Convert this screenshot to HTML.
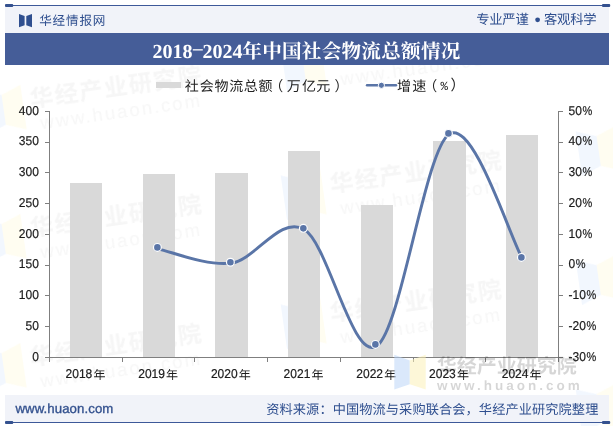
<!DOCTYPE html>
<html lang="zh"><head><meta charset="utf-8"><title>2018-2024年中国社会物流总额情况</title>
<style>
html,body{margin:0;padding:0;background:#fff}
body{width:613px;height:426px;overflow:hidden;font-family:"Liberation Sans",sans-serif}
svg{display:block;font-family:"Liberation Sans","Noto Sans CJK SC",sans-serif;will-change:transform;text-rendering:geometricPrecision}
</style></head><body>
<svg width="613" height="426" viewBox="0 0 613 426">
<defs>
<filter id="wb" x="-5%" y="-20%" width="110%" height="140%"><feGaussianBlur stdDeviation="0.5"/></filter>
</defs>
<g transform="translate(115.5 86.4) rotate(-8.1)" filter="url(#wb)"><text x="-86.45" y="8.93" font-family="'Liberation Sans','Noto Sans CJK SC',sans-serif" font-size="23.5" font-weight="bold" letter-spacing="1.4" fill="#f6f6f6">华经产业研究院</text><text x="2" y="32" text-anchor="middle" font-size="18.5" letter-spacing="2.1" fill="#f7f7f7">www.huaon.com</text><path d="M-134 -15L-114 -7.4V22.4L-134 30Z" fill="#f2f7fe"/><path d="M-94 -15L-114 -7.4V22.4L-94 30Z" fill="#fffdf1"/></g>
<g transform="translate(115.5 215.5) rotate(-8.1)" filter="url(#wb)"><text x="-86.45" y="8.93" font-family="'Liberation Sans','Noto Sans CJK SC',sans-serif" font-size="23.5" font-weight="bold" letter-spacing="1.4" fill="#f6f6f6">华经产业研究院</text><text x="2" y="32" text-anchor="middle" font-size="18.5" letter-spacing="2.1" fill="#f7f7f7">www.huaon.com</text><path d="M-134 -15L-114 -7.4V22.4L-134 30Z" fill="#f2f7fe"/><path d="M-94 -15L-114 -7.4V22.4L-94 30Z" fill="#fffdf1"/></g>
<g transform="translate(115.5 344.6) rotate(-8.1)" filter="url(#wb)"><text x="-86.45" y="8.93" font-family="'Liberation Sans','Noto Sans CJK SC',sans-serif" font-size="23.5" font-weight="bold" letter-spacing="1.4" fill="#f6f6f6">华经产业研究院</text><text x="2" y="32" text-anchor="middle" font-size="18.5" letter-spacing="2.1" fill="#f7f7f7">www.huaon.com</text><path d="M-134 -15L-114 -7.4V22.4L-134 30Z" fill="#f2f7fe"/><path d="M-94 -15L-114 -7.4V22.4L-94 30Z" fill="#fffdf1"/></g>
<g transform="translate(415.5 42.5) rotate(-8.1)" filter="url(#wb)"><text x="-86.45" y="8.93" font-family="'Liberation Sans','Noto Sans CJK SC',sans-serif" font-size="23.5" font-weight="bold" letter-spacing="1.4" fill="#f6f6f6">华经产业研究院</text><text x="2" y="32" text-anchor="middle" font-size="18.5" letter-spacing="2.1" fill="#f7f7f7">www.huaon.com</text><path d="M-134 -15L-114 -7.4V22.4L-134 30Z" fill="#f2f7fe"/><path d="M-94 -15L-114 -7.4V22.4L-94 30Z" fill="#fffdf1"/></g>
<g transform="translate(415.5 171.5) rotate(-8.1)" filter="url(#wb)"><text x="-86.45" y="8.93" font-family="'Liberation Sans','Noto Sans CJK SC',sans-serif" font-size="23.5" font-weight="bold" letter-spacing="1.4" fill="#f6f6f6">华经产业研究院</text><text x="2" y="32" text-anchor="middle" font-size="18.5" letter-spacing="2.1" fill="#f7f7f7">www.huaon.com</text><path d="M-134 -15L-114 -7.4V22.4L-134 30Z" fill="#f2f7fe"/><path d="M-94 -15L-114 -7.4V22.4L-94 30Z" fill="#fffdf1"/></g>
<g transform="translate(415.5 300.5) rotate(-8.1)" filter="url(#wb)"><text x="-86.45" y="8.93" font-family="'Liberation Sans','Noto Sans CJK SC',sans-serif" font-size="23.5" font-weight="bold" letter-spacing="1.4" fill="#f6f6f6">华经产业研究院</text><text x="2" y="32" text-anchor="middle" font-size="18.5" letter-spacing="2.1" fill="#f7f7f7">www.huaon.com</text><path d="M-134 -15L-114 -7.4V22.4L-134 30Z" fill="#f2f7fe"/><path d="M-94 -15L-114 -7.4V22.4L-94 30Z" fill="#fffdf1"/></g>
<g transform="translate(710.5 127.5) rotate(-8.1)" filter="url(#wb)"><text x="-86.45" y="8.93" font-family="'Liberation Sans','Noto Sans CJK SC',sans-serif" font-size="23.5" font-weight="bold" letter-spacing="1.4" fill="#f6f6f6">华经产业研究院</text><text x="2" y="32" text-anchor="middle" font-size="18.5" letter-spacing="2.1" fill="#f7f7f7">www.huaon.com</text><path d="M-134 -15L-114 -7.4V22.4L-134 30Z" fill="#f2f7fe"/><path d="M-94 -15L-114 -7.4V22.4L-94 30Z" fill="#fffdf1"/></g>
<g transform="translate(710.5 256.5) rotate(-8.1)" filter="url(#wb)"><text x="-86.45" y="8.93" font-family="'Liberation Sans','Noto Sans CJK SC',sans-serif" font-size="23.5" font-weight="bold" letter-spacing="1.4" fill="#f6f6f6">华经产业研究院</text><text x="2" y="32" text-anchor="middle" font-size="18.5" letter-spacing="2.1" fill="#f7f7f7">www.huaon.com</text><path d="M-134 -15L-114 -7.4V22.4L-134 30Z" fill="#f2f7fe"/><path d="M-94 -15L-114 -7.4V22.4L-94 30Z" fill="#fffdf1"/></g>
<g transform="translate(710.5 385.5) rotate(-8.1)" filter="url(#wb)"><text x="-86.45" y="8.93" font-family="'Liberation Sans','Noto Sans CJK SC',sans-serif" font-size="23.5" font-weight="bold" letter-spacing="1.4" fill="#f6f6f6">华经产业研究院</text><text x="2" y="32" text-anchor="middle" font-size="18.5" letter-spacing="2.1" fill="#f7f7f7">www.huaon.com</text><path d="M-134 -15L-114 -7.4V22.4L-134 30Z" fill="#f2f7fe"/><path d="M-94 -15L-114 -7.4V22.4L-94 30Z" fill="#fffdf1"/></g>
<rect x="5" y="6" width="604" height="27" fill="#f1f3f9"/>
<rect x="5" y="5" width="605" height="1" fill="#3d5999"/>
<rect x="5" y="4" width="8.2" height="3" rx="1" fill="#34518f"/>
<rect x="602" y="4" width="8.2" height="3" rx="1" fill="#34518f"/>
<path d="M19 14L24.6 16V25.2L19 27.2Z M32 14L26.3 16V25.2L32 27.2Z" fill="#2f4f8f"/>
<text x="39.22" y="24.89" font-family="'Liberation Sans','Noto Sans CJK SC',sans-serif" font-size="12.6" letter-spacing="0.8" fill="#2f4f8f">华经情报网</text>
<text x="476.15" y="24.12" font-family="'Liberation Sans','Noto Sans CJK SC',sans-serif" font-size="13.33" letter-spacing="-0.23" fill="#2f4f8f">专业严谨</text>
<circle cx="537.6" cy="19.8" r="2.4" fill="#2f4f8f"/>
<text x="544.03" y="24.18" font-family="'Liberation Sans','Noto Sans CJK SC',sans-serif" font-size="13.33" letter-spacing="-0.23" fill="#2f4f8f">客观科学</text>
<rect x="5" y="33" width="604" height="32" fill="#455d98"/>
<text x="152.4" y="57.9" font-family="Liberation Serif" font-weight="bold" font-size="20" fill="#fff">2018</text>
<rect x="192.8" y="49.2" width="10" height="1.3" fill="#fff"/>
<text x="202.6" y="57.9" font-family="Liberation Serif" font-weight="bold" font-size="20" fill="#fff">2024</text>
<text x="242.31" y="58.13" font-family="'Liberation Serif','Noto Serif CJK SC',serif" font-weight="bold" font-size="19.6" letter-spacing="0.25" fill="#fff">年中国社会物流总额情况</text>
<rect x="156" y="82" width="25" height="6" fill="#d9d9d9"/>
<text x="184.7 199.81 214.48 229.15 243.82 258.49 269.36 286.63 302.1 316.37 334.44" y="90.62" font-family="'Liberation Sans','Noto Sans CJK SC',sans-serif" font-size="14" fill="#222222">社会物流总额（万亿元）</text>
<path d="M367 85.3H396" stroke="#5a75a7" stroke-width="2.4" stroke-linecap="round" fill="none"/>
<circle cx="381.4" cy="85.3" r="3.1" fill="#5a75a7" stroke="#fff" stroke-width="1"/>
<text x="397.11 412.22 423.29" y="90.65" font-family="'Liberation Sans','Noto Sans CJK SC',sans-serif" font-size="14" fill="#222222">增速（</text>
<text x="440.4" y="90.3" font-family="Liberation Mono" font-size="12.4" fill="#222222">%</text>
<text x="450.6" y="90.4" font-family="'Liberation Sans','Noto Sans CJK SC',sans-serif" font-size="14.5" fill="#222222">）</text>
<rect x="70" y="183" width="32" height="174" fill="#d9d9d9"/>
<rect x="143" y="174" width="32" height="183" fill="#d9d9d9"/>
<rect x="215" y="173" width="33" height="184" fill="#d9d9d9"/>
<rect x="288" y="151" width="32" height="206" fill="#d9d9d9"/>
<rect x="361" y="205" width="32" height="152" fill="#d9d9d9"/>
<rect x="433" y="141" width="33" height="216" fill="#d9d9d9"/>
<rect x="506" y="135" width="32" height="222" fill="#d9d9d9"/>
<g stroke="#7f7f7f" stroke-width="1" fill="none" shape-rendering="crispEdges">
<path d="M49.5 111V361.5"/>
<path d="M558.5 111V361.5"/>
<path d="M45 357.5H562.5"/>
<path d="M45 111.5H50"/>
<path d="M558 111.5H562.5"/>
<path d="M45 142.5H50"/>
<path d="M558 142.5H562.5"/>
<path d="M45 172.5H50"/>
<path d="M558 172.5H562.5"/>
<path d="M45 203.5H50"/>
<path d="M558 203.5H562.5"/>
<path d="M45 234.5H50"/>
<path d="M558 234.5H562.5"/>
<path d="M45 265.5H50"/>
<path d="M558 265.5H562.5"/>
<path d="M45 295.5H50"/>
<path d="M558 295.5H562.5"/>
<path d="M45 326.5H50"/>
<path d="M558 326.5H562.5"/>
<path d="M122.5 357V361.5"/>
<path d="M194.5 357V361.5"/>
<path d="M267.5 357V361.5"/>
<path d="M340.5 357V361.5"/>
<path d="M413.5 357V361.5"/>
<path d="M485.5 357V361.5"/>
</g>
<g font-size="12.8" fill="#1c1c1c" stroke="#1c1c1c" stroke-width="0.2">
<text transform="translate(38.9 114.7) scale(0.94 1)" text-anchor="end">400</text>
<text transform="translate(38.9 145.45) scale(0.94 1)" text-anchor="end">350</text>
<text transform="translate(38.9 176.2) scale(0.94 1)" text-anchor="end">300</text>
<text transform="translate(38.9 206.95) scale(0.94 1)" text-anchor="end">250</text>
<text transform="translate(38.9 237.7) scale(0.94 1)" text-anchor="end">200</text>
<text transform="translate(38.9 268.45) scale(0.94 1)" text-anchor="end">150</text>
<text transform="translate(38.9 299.2) scale(0.94 1)" text-anchor="end">100</text>
<text transform="translate(38.9 329.95) scale(0.94 1)" text-anchor="end">50</text>
<text transform="translate(38.9 360.7) scale(0.94 1)" text-anchor="end">0</text>
<text transform="translate(568.6 114.7) scale(0.94 1)" text-anchor="start">50</text>
<text transform="translate(582.55 114.7) scale(0.86 1)" text-anchor="start">%</text>
<text transform="translate(568.6 145.45) scale(0.94 1)" text-anchor="start">40</text>
<text transform="translate(582.55 145.45) scale(0.86 1)" text-anchor="start">%</text>
<text transform="translate(568.6 176.2) scale(0.94 1)" text-anchor="start">30</text>
<text transform="translate(582.55 176.2) scale(0.86 1)" text-anchor="start">%</text>
<text transform="translate(568.6 206.95) scale(0.94 1)" text-anchor="start">20</text>
<text transform="translate(582.55 206.95) scale(0.86 1)" text-anchor="start">%</text>
<text transform="translate(568.6 237.7) scale(0.94 1)" text-anchor="start">10</text>
<text transform="translate(582.55 237.7) scale(0.86 1)" text-anchor="start">%</text>
<text transform="translate(568.6 268.45) scale(0.94 1)" text-anchor="start">0</text>
<text transform="translate(575.83 268.45) scale(0.86 1)" text-anchor="start">%</text>
<text transform="translate(568.6 299.2) scale(0.94 1)" text-anchor="start">-10</text>
<text transform="translate(586.6 299.2) scale(0.86 1)" text-anchor="start">%</text>
<text transform="translate(568.6 329.95) scale(0.94 1)" text-anchor="start">-20</text>
<text transform="translate(586.6 329.95) scale(0.86 1)" text-anchor="start">%</text>
<text transform="translate(568.6 360.7) scale(0.94 1)" text-anchor="start">-30</text>
<text transform="translate(586.6 360.7) scale(0.86 1)" text-anchor="start">%</text>
<text transform="translate(65.5 377.8) scale(0.94 1)" text-anchor="start">2018</text>
<text transform="translate(138.2 377.8) scale(0.94 1)" text-anchor="start">2019</text>
<text transform="translate(210.9 377.8) scale(0.94 1)" text-anchor="start">2020</text>
<text transform="translate(283.6 377.8) scale(0.94 1)" text-anchor="start">2021</text>
<text transform="translate(356.3 377.8) scale(0.94 1)" text-anchor="start">2022</text>
<text transform="translate(429 377.8) scale(0.94 1)" text-anchor="start">2023</text>
<text transform="translate(501.7 377.8) scale(0.94 1)" text-anchor="start">2024</text>
</g>
<g font-family="'Liberation Sans','Noto Sans CJK SC',sans-serif" font-size="12" fill="#1c1c1c">
<text x="93.4" y="378.9">年</text>
<text x="166.1" y="378.9">年</text>
<text x="238.8" y="378.9">年</text>
<text x="311.5" y="378.9">年</text>
<text x="384.2" y="378.9">年</text>
<text x="456.9" y="378.9">年</text>
<text x="529.6" y="378.9">年</text>
</g>
<path d="M158.6 249.07C170.72 251.41 207.07 266.4 231.3 263.1C255.53 259.81 279.77 215.47 304 229.3C328.23 243.13 352.47 361.99 376.7 346.1C400.93 330.21 425.17 148.62 449.4 133.95C473.63 119.28 509.98 237.41 522.1 258.1" fill="none" stroke="#5a75a7" stroke-width="2.9" stroke-linecap="round" stroke-linejoin="round"/>
<circle cx="157.4" cy="247.4" r="3.9" fill="#5a75a7" stroke="#fff" stroke-width="1.2"/>
<circle cx="230.4" cy="262.3" r="3.9" fill="#5a75a7" stroke="#fff" stroke-width="1.2"/>
<circle cx="303.35" cy="228.35" r="3.9" fill="#5a75a7" stroke="#fff" stroke-width="1.2"/>
<circle cx="375.4" cy="344.4" r="3.9" fill="#5a75a7" stroke="#fff" stroke-width="1.2"/>
<circle cx="448.45" cy="133.4" r="3.9" fill="#5a75a7" stroke="#fff" stroke-width="1.2"/>
<circle cx="521.4" cy="257.4" r="3.9" fill="#5a75a7" stroke="#fff" stroke-width="1.2"/>
<g opacity="0.55">
<path d="M394.3 354.75L409.8 360.6V384.3L394.3 389.6Z" fill="#bcd6f7"/><path d="M425.7 354.75L409.8 360.6V384.3L425.7 389.6Z" fill="#fbf1b8"/>
</g>
<text x="436.82" y="372.83" font-family="'Liberation Sans','Noto Sans CJK SC',sans-serif" font-size="20" font-weight="bold" fill="#000" opacity="0.16">华经产业研究院</text>
<text x="437" y="390" font-size="13.5" font-weight="bold" letter-spacing="3" fill="#000" opacity="0.16">www.huaon.com</text>
<rect x="5" y="395" width="604" height="27" fill="#f1f3f9"/>
<rect x="5" y="422" width="605" height="1" fill="#3d5999"/>
<rect x="5" y="421" width="8.2" height="3" rx="1" fill="#34518f"/>
<rect x="602" y="421" width="8.2" height="3" rx="1" fill="#34518f"/>
<text x="15.4" y="412.7" font-size="13.2" letter-spacing="0.1" fill="#34528f" stroke="#34528f" stroke-width="0.35">www.huaon.com</text>
<text x="266.25" y="413.87" font-family="'Liberation Sans','Noto Sans CJK SC',sans-serif" font-size="13.2" letter-spacing="0.1" fill="#2f4f8f">资料来源：中国物流与采购联合会，华经产业研究院整理</text>
</svg>
</body></html>
